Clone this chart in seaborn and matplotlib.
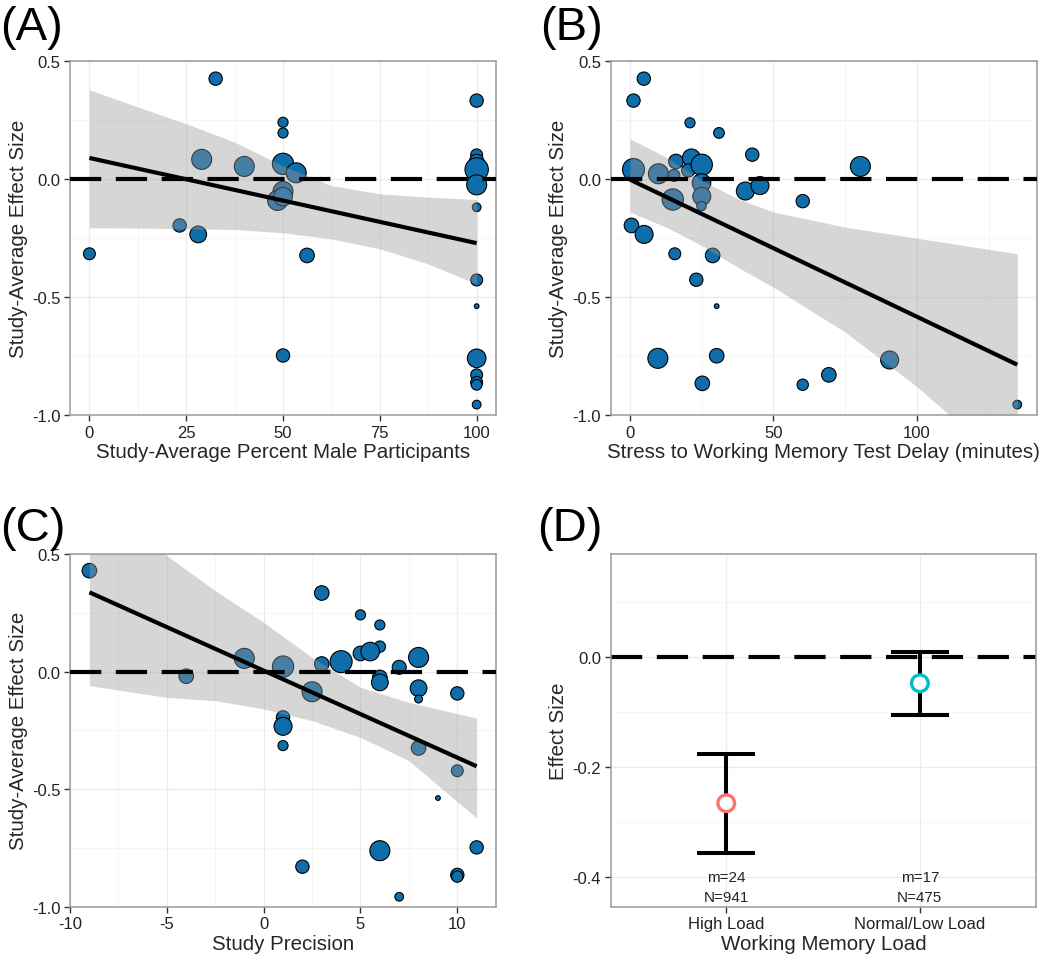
import numpy as np
import pandas as pd
import matplotlib.pyplot as plt
import seaborn as sns
from matplotlib.ticker import MultipleLocator

# (A) percent male participants
male_pct = [32.6, 0, 100, 50, 50, 29, 40, 50, 53.4, 50, 48.6, 50, 23.3, 28.1, 56.2, 50,
            100, 100, 100, 100, 100, 100, 100, 100, 100, 100, 100, 100]
male_es = [0.425, -0.317, 0.332, 0.24, 0.195, 0.083, 0.053, 0.064, 0.026, -0.053, -0.091, -0.075,
           -0.197, -0.235, -0.324, -0.748,
           0.102, 0.074, 0.04, -0.025, -0.12, -0.428, -0.539, -0.76, -0.83, -0.862, -0.872, -0.956]
male_w = [4.0, 3.2, 4.0, 2.3, 2.3, 9.0, 9.0, 10.2, 9.0, 9.0, 9.0, 7.8, 4.0, 6.3, 4.8, 4.0,
          3.2, 4.8, 12.3, 9.0, 1.7, 3.2, 0.5, 7.8, 3.2, 3.2, 2.6, 1.7]
male_fit_x = [0, 100]
male_fit_y = [0.089, -0.272]
male_band_x = [0, 12.5, 25, 37.5, 50, 62.5, 75, 87.5, 100]
male_band_lo = [-0.207, -0.208, -0.211, -0.214, -0.228, -0.254, -0.296, -0.36, -0.445]
male_band_hi = [0.378, 0.305, 0.234, 0.156, 0.055, -0.028, -0.063, -0.077, -0.087]

# (B) stress to working memory test delay
delay_min = [4.8, 1.2, 20.9, 31.0, 42.6, 80.3, 1.2, 9.9, 15.3, 16.0, 21.4, 20.3, 25.0, 24.9, 25.0,
             24.9, 14.9, 40.2, 45.3, 60.2, 0.5, 4.9, 15.6, 28.8, 23.1, 30.2, 9.7, 30.2, 90.5, 69.3,
             25.2, 60.2, 135]
delay_es = [0.425, 0.332, 0.238, 0.195, 0.103, 0.053, 0.04, 0.022, 0.015, 0.074, 0.089, 0.036, 0.06,
            -0.017, -0.074, -0.115, -0.087, -0.051, -0.028, -0.094, -0.197, -0.235, -0.317, -0.324,
            -0.427, -0.539, -0.76, -0.749, -0.767, -0.83, -0.866, -0.872, -0.956]
delay_w = [4.0, 4.0, 2.3, 2.6, 4.0, 9.0, 10.9, 9.0, 3.2, 4.8, 7.3, 4.0, 10.2, 7.8, 7.3, 2.0, 10.2,
           7.3, 7.3, 4.0, 4.8, 7.3, 3.2, 4.8, 4.0, 0.5, 9.0, 4.8, 7.3, 4.8, 4.8, 2.9, 1.7]
delay_fit_x = [0, 135]
delay_fit_y = [-0.003, -0.787]
delay_band_x = [0, 12.5, 25, 37.5, 50, 75, 100, 135]
delay_band_lo = [-0.14, -0.204, -0.282, -0.374, -0.459, -0.649, -0.88, -1.25]
delay_band_hi = [0.17, 0.093, -0.006, -0.084, -0.14, -0.204, -0.251, -0.317]

# (C) study precision
prec = [-9, 3, 5, 6, 6, 5, 5.5, 4, 3, 7, 8, -1, 1, -4, 6, 6, 8, 8, 10, 2.5, 1, 1, 1, 8, 10,
        9, 6, 11, 2, 10, 10, 7]
prec_es = [0.429, 0.334, 0.241, 0.198, 0.106, 0.077, 0.085, 0.042, 0.032, 0.018, 0.06, 0.056,
           0.021, -0.02, -0.025, -0.046, -0.071, -0.117, -0.093, -0.086, -0.195, -0.233, -0.315,
           -0.325, -0.422, -0.538, -0.762, -0.748, -0.83, -0.865, -0.872, -0.958]
prec_w = [4.8, 4.8, 2.3, 2.3, 2.9, 4.8, 7.8, 10.9, 4.8, 4.4, 9.0, 9.0, 10.2, 4.8, 4.8, 6.3, 6.3,
          1.4, 4.0, 9.0, 4.0, 7.3, 2.3, 4.8, 3.2, 0.5, 9.0, 4.0, 4.0, 4.0, 2.9, 1.7]
prec_fit_x = [-9, 11]
prec_fit_y = [0.337, -0.403]
prec_band_x = [-9, -5, -2.5, 0, 2.5, 5, 7.5, 11]
prec_band_lo = [-0.06, -0.11, -0.124, -0.159, -0.209, -0.28, -0.379, -0.623]
prec_band_hi = [0.73, 0.493, 0.344, 0.209, 0.06, -0.067, -0.131, -0.198]

# (D) working memory load
load_cat = ['High Load', 'Normal/Low Load']
load_es = [-0.265, -0.047]
load_lo = [-0.355, -0.104]
load_hi = [-0.176, 0.009]
load_m = [24, 17]
load_n = [941, 475]

blue = '#0f6eaa'
W_MAX = 12.3

sns.set_theme(style='white')
plt.rcParams['font.family'] = ['Liberation Sans', 'DejaVu Sans']
plt.rcParams['axes.unicode_minus'] = False

fig = plt.figure(figsize=(10.5, 9.62), dpi=100)
ax_a = fig.add_axes([0.0667, 0.5676, 0.4057, 0.368])
ax_b = fig.add_axes([0.5816, 0.5676, 0.4057, 0.368])
ax_c = fig.add_axes([0.0667, 0.0565, 0.4057, 0.3666])
ax_d = fig.add_axes([0.5816, 0.0565, 0.4051, 0.3666])


def style_axes(ax):
    ax.grid(which='major', color='#ebebeb', lw=0.9)
    ax.grid(which='minor', color='#f4f4f4', lw=0.6)
    ax.set_axisbelow(True)
    for sp in ax.spines.values():
        sp.set_color('#9a9a9a')
        sp.set_linewidth(1.1)
    ax.tick_params(which='major', direction='out', length=4, width=1, color='#333333',
                   labelsize=12, labelcolor='#222222', left=True, bottom=True, pad=3)
    ax.tick_params(which='minor', length=0)


def meta_panel(ax, x, y, w, fit_x, fit_y, band_x, band_lo, band_hi, xlabel, xlim, xstep):
    df = pd.DataFrame({'x': x, 'es': y, 'w': w})
    sns.scatterplot(data=df, x='x', y='es', size='w', sizes=(0, 23.0 * W_MAX),
                    size_norm=(0, W_MAX), color=blue, edgecolor='black', linewidth=0.8,
                    legend=False, ax=ax, zorder=2)
    ax.fill_between(band_x, band_lo, band_hi, color='#999999', alpha=0.4, lw=0, zorder=3)
    ax.plot(fit_x, fit_y, color='black', lw=3, solid_capstyle='butt', zorder=4)
    ax.axhline(0, color='black', lw=3, dashes=(7.5, 3.5), zorder=5)
    ax.set_xlim(*xlim)
    ax.set_ylim(-1.0, 0.5)
    ax.xaxis.set_major_locator(MultipleLocator(xstep))
    ax.xaxis.set_minor_locator(MultipleLocator(xstep / 2))
    ax.yaxis.set_major_locator(MultipleLocator(0.5))
    ax.yaxis.set_minor_locator(MultipleLocator(0.25))
    ax.yaxis.set_major_formatter(lambda v, p: f'{v:.1f}')
    ax.set_xlabel(xlabel, fontsize=14.8, labelpad=2)
    ax.set_ylabel('Study-Average Effect Size', fontsize=14.8, labelpad=3)
    style_axes(ax)


meta_panel(ax_a, male_pct, male_es, male_w, male_fit_x, male_fit_y, male_band_x, male_band_lo,
           male_band_hi, 'Study-Average Percent Male Participants', (-5, 105), 25)
meta_panel(ax_b, delay_min, delay_es, delay_w, delay_fit_x, delay_fit_y, delay_band_x,
           delay_band_lo, delay_band_hi, 'Stress to Working Memory Test Delay (minutes)',
           (-6.75, 141.75), 50)
meta_panel(ax_c, prec, prec_es, prec_w, prec_fit_x, prec_fit_y, prec_band_x, prec_band_lo,
           prec_band_hi, 'Study Precision', (-10, 12), 5)

# (D)
pos = np.arange(len(load_cat))
ax_d.axhline(0, color='black', lw=3, dashes=(7.5, 3.5), zorder=2)
ax_d.errorbar(pos, load_es,
              yerr=[np.array(load_es) - np.array(load_lo), np.array(load_hi) - np.array(load_es)],
              fmt='none', ecolor='black', elinewidth=2.9, capsize=21, capthick=2.9, zorder=3)
dd = pd.DataFrame({'pos': pos, 'es': load_es, 'load': load_cat})
sns.scatterplot(data=dd, x='pos', y='es', hue='load', palette=['#F8766D', '#00BFC4'],
                s=144, linewidth=2.4, legend=False, ax=ax_d, zorder=4)
pts = ax_d.collections[-1]
pts.set_edgecolors(pts.get_facecolors())
pts.set_facecolors('white')
for p, m, n in zip(pos, load_m, load_n):
    ax_d.text(p, -0.399, f'm={m}', ha='center', va='center', fontsize=11, color='#222222')
    ax_d.text(p, -0.436, f'N={n}', ha='center', va='center', fontsize=11, color='#222222')
ax_d.set_xlim(-0.597, 1.6)
ax_d.set_ylim(-0.453, 0.188)
ax_d.set_xticks(pos)
ax_d.set_xticklabels(load_cat)
ax_d.yaxis.set_major_locator(MultipleLocator(0.2))
ax_d.yaxis.set_minor_locator(MultipleLocator(0.1))
ax_d.yaxis.set_major_formatter(lambda v, p: f'{v:.1f}')
ax_d.set_xlabel('Working Memory Load', fontsize=14.8, labelpad=2)
ax_d.set_ylabel('Effect Size', fontsize=14.8, labelpad=3)
style_axes(ax_d)
ax_d.grid(which='minor', axis='x', visible=False)

for lbl, fx, fy in [('(A)', 0.0, 1 - 40 / 962), ('(B)', 0.514, 1 - 40 / 962),
                    ('(C)', 0.0, 1 - 541 / 962), ('(D)', 0.512, 1 - 541 / 962)]:
    fig.text(fx, fy, lbl, fontsize=34, ha='left', va='baseline', color='black')

fig.savefig('out.png', dpi=100)
